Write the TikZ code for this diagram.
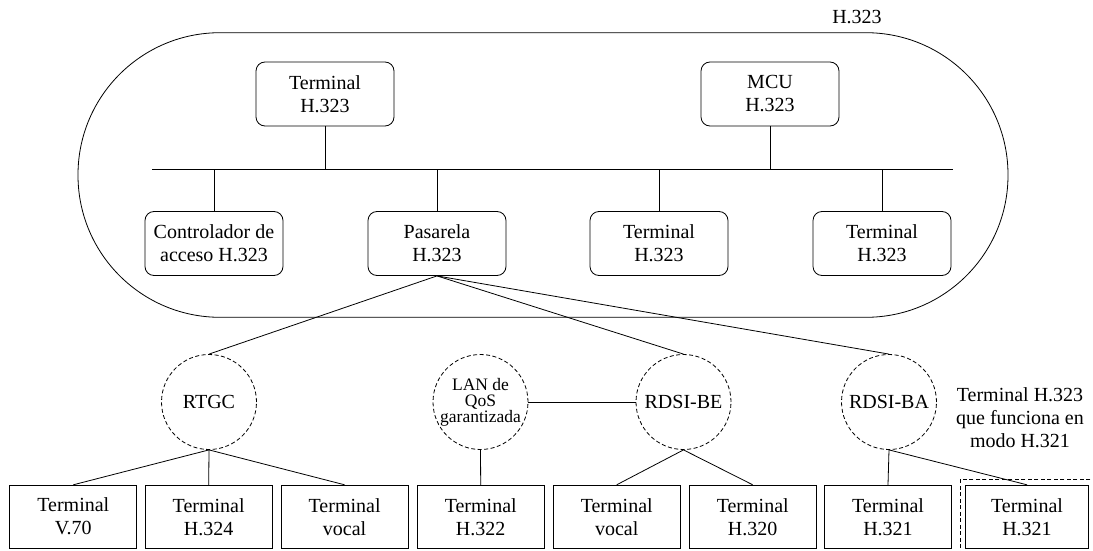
\documentclass[tikz,border=0pt]{standalone}
\usepackage{fontspec}
\setmainfont{Liberation Serif}
\newfontfamily\labelfont{Liberation Serif}
\begin{document}
\begin{tikzpicture}[x=1pt,y=-1pt,line width=0.8pt,
  txt/.style={align=center,font=\labelfont\fontsize{20}{23}\selectfont},
  rbox/.style={txt,draw,rounded corners=9pt,minimum width=138pt,minimum height=64pt,inner sep=0pt},
  sbox/.style={txt,draw,minimum width=127pt,minimum height=63pt,inner sep=0pt},
  net/.style={txt,draw,dashed,dash pattern=on 4pt off 2.5pt,circle,minimum size=95pt,inner sep=0pt}]
\useasboundingbox (0,0) rectangle (1093,551);
\clip (0,0) rectangle (1093,551);

% H.323 zone
\draw[rounded corners=142pt] (78,32.7) rectangle (1008,317.3);
\node[txt] (zone) at (857,17) {H.323};

% LAN bus
\coordinate (busL) at (152,169);
\coordinate (busR) at (953,169);
\draw (busL) -- (busR);

% H.323 entities
\node[rbox] (t1)  at (325,94)    {Terminal\\H.323};
\node[rbox] (mcu) at (770,94)    {MCU\\H.323};
\node[rbox] (gk)  at (214,243.5) {Controlador de\\acceso H.323};
\node[rbox] (gw)  at (437,243.5) {Pasarela\\H.323};
\node[rbox] (t3)  at (659,243.5) {Terminal\\H.323};
\node[rbox] (t4)  at (882,243.5) {Terminal\\H.323};

\foreach \n in {t1,mcu,gk,gw,t3,t4} \draw (\n) -- (\n |- busL);

% networks
\node[net] (rtgc) at (209,402)   {RTGC};
\node[net,font=\labelfont\fontsize{17.5}{16}\selectfont] (lan) at (480.5,402) {LAN de\\QoS\\garantizada};
\node[net] (be)   at (683.5,402) {RDSI-BE};
\node[net] (ba)   at (889,402)   {RDSI-BA};

\draw (gw.south) -- (rtgc.north);
\draw (gw.south) -- (be.north);
\draw (gw.south) -- (ba.north);
\draw (lan) -- (be);

% terminals
\node[sbox] (b1) at (73.3,516.7)  {Terminal\\V.70};
\node[sbox] (b2) at (208.7,516.7) {Terminal\\H.324};
\node[sbox] (b3) at (344.6,516.7) {Terminal\\vocal};
\node[sbox] (b4) at (480.7,516.7) {Terminal\\H.322};
\node[sbox] (b5) at (616.7,516.7) {Terminal\\vocal};
\node[sbox] (b6) at (752.7,516.7) {Terminal\\H.320};
\node[sbox] (b7) at (888,516.7)   {Terminal\\H.321};
\node[sbox,minimum width=123pt] (b8) at (1027,516.7) {Terminal\\H.321};

\draw (rtgc.south) -- (b1.north);
\draw (rtgc.south) -- (b2.north);
\draw (rtgc.south) -- (b3.north);
\draw (lan.south) -- (b4.north);
\draw (be.south) -- (b5.north);
\draw (be.south) -- (b6.north);
\draw (ba.south) -- (b7.north);
\draw (ba.south) -- (b8.north);

% H.323 terminal in H.321 mode
\draw[dashed,dash pattern=on 4pt off 2.5pt] (960,479.3) rectangle (1110,570);
\node[txt] (mode) at (1020,418) {Terminal H.323\\que funciona en\\modo H.321};
\end{tikzpicture}
\end{document}
